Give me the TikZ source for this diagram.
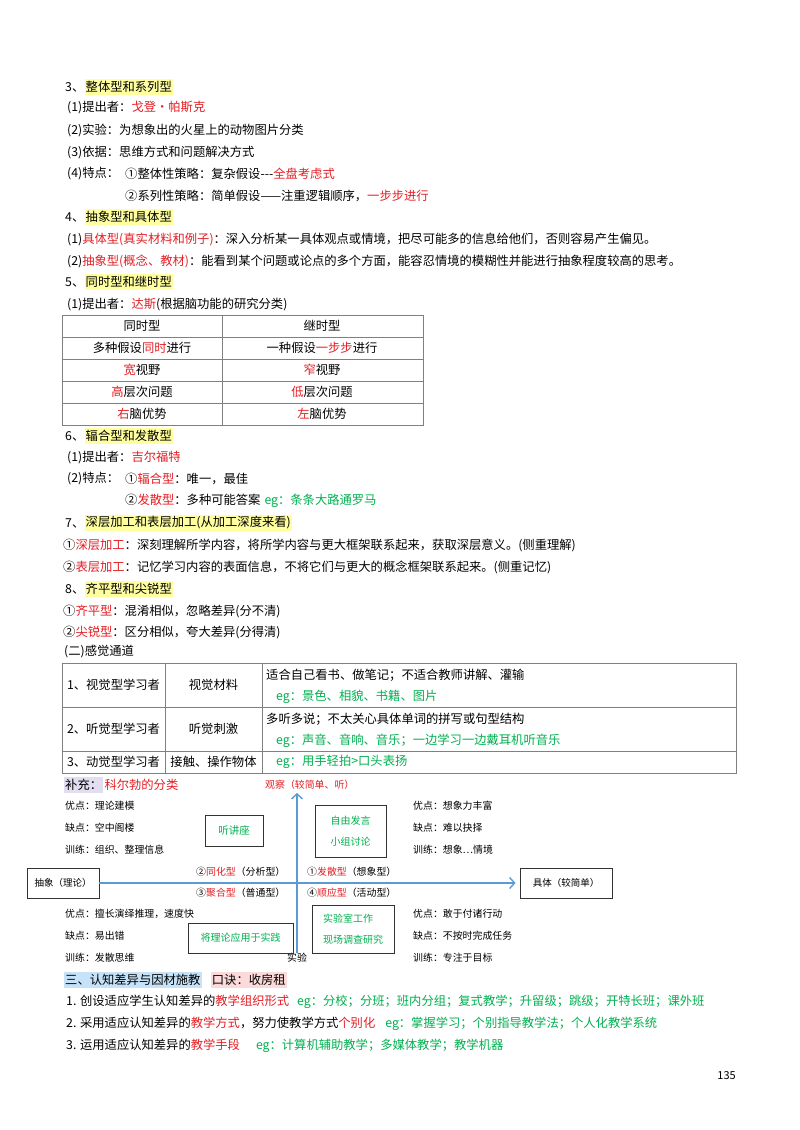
\documentclass[tikz,border=0pt]{standalone}
\usepackage{fontspec}
\setmainfont{Noto Sans CJK SC}
\usepackage{tikz}
\usetikzlibrary{arrows.meta}
\usetikzlibrary{positioning}
\tikzset{>={Straight Barb[length=5pt,width=11pt]}}
\definecolor{hred}{RGB}{228,30,36}
\definecolor{hgreen}{RGB}{0,176,80}
\definecolor{hlyellow}{RGB}{255,255,160}
\definecolor{hlblue}{RGB}{197,226,248}
\definecolor{hlpink}{RGB}{252,218,218}
\definecolor{hlviolet}{RGB}{226,222,240}
\definecolor{axisblue}{RGB}{91,155,213}
\newcommand\rd[1]{\textcolor{hred}{#1}}
\newcommand\gn[1]{\textcolor{hgreen}{#1}}

\begin{document}
\begin{tikzpicture}[x=1pt, y=-1pt,
	txt/.style={inner sep=0pt, anchor=west, font=\fontsize{12.3}{14}\selectfont},
	hl/.style={txt, fill=hlyellow, inner xsep=1pt, inner ysep=2pt},
	cell/.style={txt, anchor=center},
	sm/.style={txt, font=\fontsize{9.9}{12}\selectfont},
	grid/.style={draw=black!50, line width=0.8pt},
	box/.style={draw=black!80, line width=0.9pt, font=\fontsize{10}{21}\selectfont, text=hgreen, inner sep=0pt},
	axis/.style={draw=axisblue, line width=1.4pt}]
	\fill[white] (0,0) rectangle (800,1130);
	\useasboundingbox (0,0) rectangle (800,1130);

	\node[txt] (s3) at (65,87) {3、};
	\node[hl, right=0pt of s3] (s3t) {整体型和系列型};
	\node[txt] (s3a) at (67,108) {(1)提出者：\rd{戈登・帕斯克}};
	\node[txt] (s3b) at (67,130) {(2)实验：为想象出的火星上的动物图片分类};
	\node[txt] (s3c) at (67,152) {(3)依据：思维方式和问题解决方式};
	\node[txt] (s3d) at (67,174) {(4)特点：};
	\node[txt] (s3e) at (125,174) {①整体性策略：复杂假设-{}-{}-\rd{全盘考虑式}};
	\node[txt] (s3f) at (125,196) {②系列性策略：简单假设——注重逻辑顺序，\rd{一步步进行}};

	\node[txt] (s4) at (65,217) {4、};
	\node[hl, right=0pt of s4] (s4t) {抽象型和具体型};
	\node[txt] (s4a) at (67,239) {(1)\rd{具体型(真实材料和例子)}：深入分析某一具体观点或情境，把尽可能多的信息给他们，否则容易产生偏见。};
	\node[txt] (s4b) at (67,261) {(2)\rd{抽象型(概念、教材)}：能看到某个问题或论点的多个方面，能容忍情境的模糊性并能进行抽象程度较高的思考。};

	\node[txt] (s5) at (65,282) {5、};
	\node[hl, right=0pt of s5] (s5t) {同时型和继时型};
	\node[txt] (s5a) at (67,304) {(1)提出者：\rd{达斯}(根据脑功能的研究分类)};
	\draw[grid] (62,315) rectangle (423,425);
	\draw[grid] (222,315) -- (222,425);
	\foreach \y in {337,359,381,403} \draw[grid] (62,\y) -- (423,\y);
	\node[cell] (simh) at (142,326) {同时型};
	\node[cell] (succh) at (322,326) {继时型};
	\node[cell] (sim1) at (142,348) {多种假设\rd{同时}进行};
	\node[cell] (succ1) at (322,348) {一种假设\rd{一步步}进行};
	\node[cell] (sim2) at (142,370) {\rd{宽}视野};
	\node[cell] (succ2) at (322,370) {\rd{窄}视野};
	\node[cell] (sim3) at (142,392) {\rd{高}层次问题};
	\node[cell] (succ3) at (322,392) {\rd{低}层次问题};
	\node[cell] (sim4) at (142,414) {\rd{右}脑优势};
	\node[cell] (succ4) at (322,414) {\rd{左}脑优势};

	\node[txt] (s6) at (65,436) {6、};
	\node[hl, right=0pt of s6] (s6t) {辐合型和发散型};
	\node[txt] (s6a) at (67,458) {(1)提出者：\rd{吉尔福特}};
	\node[txt] (s6b) at (67,479) {(2)特点：};
	\node[txt] (s6c) at (125,479) {①\rd{辐合型}：唯一，最佳};
	\node[txt] (s6d) at (125,501) {②\rd{发散型}：多种可能答案\hspace{4pt}\gn{eg：条条大路通罗马}};

	\node[txt] (s7) at (65,523) {7、};
	\node[hl, right=0pt of s7] (s7t) {深层加工和表层加工(从加工深度来看)};
	\node[txt] (s7a) at (63,545) {①\rd{深层加工}：深刻理解所学内容，将所学内容与更大框架联系起来，获取深层意义。(侧重理解)};
	\node[txt] (s7b) at (63,567) {②\rd{表层加工}：记忆学习内容的表面信息，不将它们与更大的概念框架联系起来。(侧重记忆)};

	\node[txt] (s8) at (65,589) {8、};
	\node[hl, right=0pt of s8] (s8t) {齐平型和尖锐型};
	\node[txt] (s8a) at (63,611) {①\rd{齐平型}：混淆相似，忽略差异(分不清)};
	\node[txt] (s8b) at (63,632) {②\rd{尖锐型}：区分相似，夸大差异(分得清)};
	\node[txt] (ch) at (64,652) {(二)感觉通道};

	\draw[grid] (62,663) rectangle (736,773);
	\foreach \y in {707,751} \draw[grid] (62,\y) -- (736,\y);
	\foreach \x in {165,262} \draw[grid] (\x,663) -- (\x,773);
	\node[cell] (vis) at (113.5,685) {1、视觉型学习者};
	\node[cell] (vism) at (213.5,685) {视觉材料};
	\node[txt] (visa) at (266,675) {适合自己看书、做笔记；不适合教师讲解、灌输};
	\node[txt] (visb) at (276,697) {\gn{eg：景色、相貌、书籍、图片}};
	\node[cell] (aud) at (113.5,729) {2、听觉型学习者};
	\node[cell] (audm) at (213.5,729) {听觉刺激};
	\node[txt] (auda) at (266,719) {多听多说；不太关心具体单词的拼写或句型结构};
	\node[txt] (audb) at (276,741) {\gn{eg：声音、音响、音乐；一边学习一边戴耳机听音乐}};
	\node[cell] (kin) at (113.5,762) {3、动觉型学习者};
	\node[cell] (kinm) at (213.5,762) {接触、操作物体};
	\node[txt] (kina) at (276,762) {\gn{eg：用手轻拍>口头表扬}};

	\node[hl, fill=hlviolet] (sup) at (64,785) {补充：};
	\node[txt, right=1pt of sup] (supt) {\rd{科尔勃的分类}};
	\node[sm] (obs) at (265,785) {\rd{观察（较简单、听）}};
	\node[sm, anchor=center] (exp) at (297,958) {实验};
	\coordinate (top) at (297,793);
	\node[box, minimum width=72pt, minimum height=30pt, text=black, font=\fontsize{9.5}{11}\selectfont] (abs) at (63,883) {抽象（理论）};
	\node[box, minimum width=92pt, minimum height=30pt, text=black, font=\fontsize{9.5}{11}\selectfont] (con) at (566,883) {具体（较简单）};
	\node[box, minimum width=58pt, minimum height=31pt, font=\fontsize{10.5}{12}\selectfont] (lect) at (234,830.5) {听讲座};
	\node[box, minimum width=71pt, minimum height=52pt, align=left] (talk) at (350.5,831) {自由发言\\小组讨论};
	\node[box, minimum width=105pt, minimum height=30pt] (prac) at (240.5,938) {将理论应用于实践};
	\node[box, minimum width=82pt, minimum height=48pt, align=left] (lab) at (353,929.5) {实验室工作\\现场调查研究};
	\draw[axis, ->] (abs) -- (con) [shorten >=4pt];
	\draw[axis, ->] (exp.north) -- (top);

	\node[sm] (aa) at (65,806) {优点：理论建模};
	\node[sm] (ab) at (65,828) {缺点：空中阁楼};
	\node[sm] (ac) at (65,850) {训练：组织、整理信息};
	\node[sm] (ba) at (413,806) {优点：想象力丰富};
	\node[sm] (bb) at (413,828) {缺点：难以抉择};
	\node[sm] (bc) at (413,850) {训练：想象…情境};
	\node[sm] (q2) at (196,872) {②\rd{同化型}（分析型）};
	\node[sm] (q3) at (196,893) {③\rd{聚合型}（普通型）};
	\node[sm] (q1) at (307,872) {①\rd{发散型}（想象型）};
	\node[sm] (q4) at (307,893) {④\rd{顺应型}（活动型）};
	\node[sm] (ca) at (65,914) {优点：擅长演绎推理，速度快};
	\node[sm] (cb) at (65,936) {缺点：易出错};
	\node[sm] (cc) at (65,958) {训练：发散思维};
	\node[sm] (da) at (413,914) {优点：敢于付诸行动};
	\node[sm] (db) at (413,936) {缺点：不按时完成任务};
	\node[sm] (dc) at (413,958) {训练：专注于目标};

	\node[hl, fill=hlblue] (s9) at (64,980) {三、认知差异与因材施教};
	\node[hl, fill=hlpink, right=9pt of s9] (s9k) {口诀：收房租};
	\node[txt] (s9a) at (66,1002) {1. 创设适应学生认知差异的\rd{教学组织形式}\hspace{8pt}\gn{eg：分校；分班；班内分组；复式教学；升留级；跳级；开特长班；课外班}};
	\node[txt] (s9b) at (66,1024) {2. 采用适应认知差异的\rd{教学方式}，努力使教学方式\rd{个别化}\hspace{10pt}\gn{eg：掌握学习；个别指导教学法；个人化教学系统}};
	\node[txt] (s9c) at (66,1046) {3. 运用适应认知差异的\rd{教学手段}\hspace{16pt}\gn{eg：计算机辅助教学；多媒体教学；教学机器}};
	\node[txt, anchor=east, font=\fontsize{11}{13}\selectfont] (pg) at (736,1076) {135};
\end{tikzpicture}
\end{document}
